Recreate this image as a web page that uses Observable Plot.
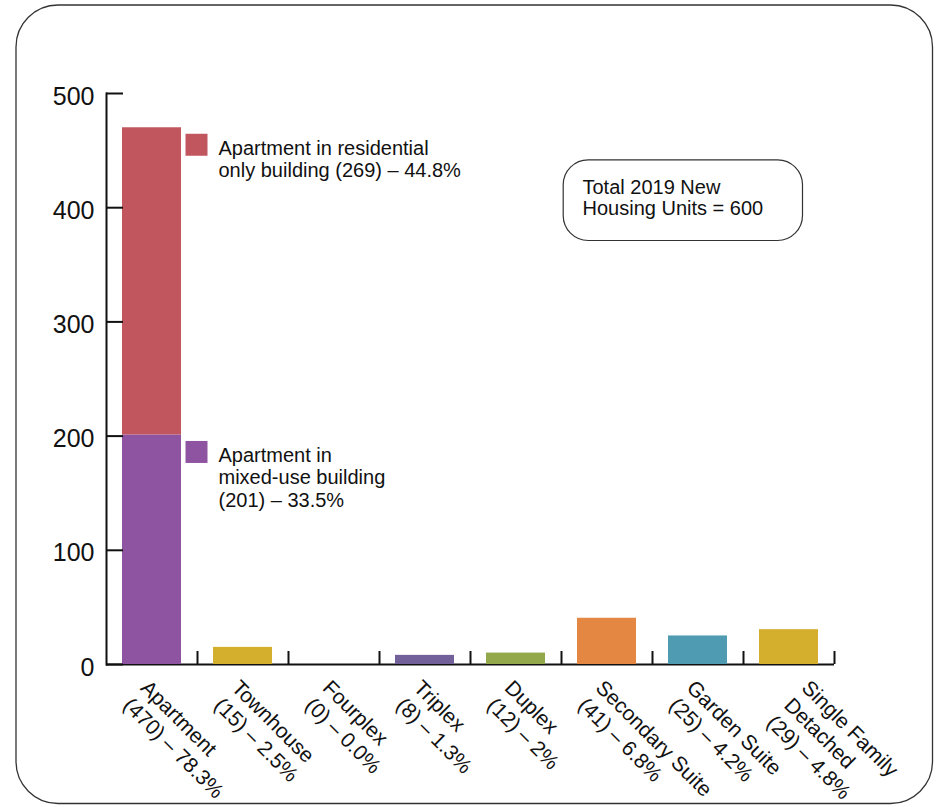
<!DOCTYPE html>
<html><head><meta charset="utf-8">
<script src="https://cdn.jsdelivr.net/npm/d3@7"></script>
<script src="https://cdn.jsdelivr.net/npm/@observablehq/plot@0.6"></script>
<style>body{margin:0;background:#fff}</style>
</head><body><div id="chart"></div>
<script>
const categories = ["Apartment","Townhouse","Fourplex","Triplex","Duplex","Secondary Suite","Garden Suite","Single Family Detached"];
const tickLabels = [
  "Apartment\n(470) – 78.3%",
  "Townhouse\n(15) – 2.5%",
  "Fourplex\n(0) – 0.0%",
  "Triplex\n(8) – 1.3%",
  "Duplex\n(12) – 2%",
  "Secondary Suite\n(41) – 6.8%",
  "Garden Suite\n(25) – 4.2%",
  "Single Family\nDetached\n(29) – 4.8%"
];
// bar heights as drawn in the picture (Apartment is split below)
const otherCategories = ["Townhouse","Fourplex","Triplex","Duplex","Secondary Suite","Garden Suite","Single Family Detached"];
const otherValues = [15, 0, 8, 10, 40.5, 25, 30.5];
const otherColors = ["#D4AE2D","#7C7B4F","#72609B","#93A84B","#E38743","#4E9BB2","#D4AE2D"];
const apartmentParts = ["mixed-use","residential only"];
const apartmentValues = [201, 269];
const apartmentColors = ["#8E53A1","#C1565F"];
const apartmentLegend = [
  "Apartment in\nmixed-use building\n(201) – 33.5%",
  "Apartment in residential\nonly building (269) – 44.8%"
];
const yTicks = [0,100,200,300,400,500];
const totalNote = "Total 2019 New\nHousing Units = 600";

const barRows = [
  ...apartmentParts.map((p,i) => ({category: "Apartment", value: apartmentValues[i], color: apartmentColors[i]})),
  ...otherCategories.map((c,i) => ({category: c, value: otherValues[i], color: otherColors[i]}))
];
const tops = d3.cumsum(apartmentValues);
const legendRows = apartmentParts.map((p,i) => ({top: tops[i], text: apartmentLegend[i], color: apartmentColors[i]}));
const labelRows = categories.map((c,i) => ({category: c, label: tickLabels[i], lines: tickLabels[i].split("\n").length}));

const labelOpts = {x: "category", text: "label", frameAnchor: "bottom", rotate: 45, textAnchor: "start", lineAnchor: "top", dy: 12, fontSize: 21, lineHeight: 1.18, fill: "#111"};

const chart = Plot.plot({
  width: 937, height: 807,
  marginLeft: 106, marginRight: 103, marginTop: 93, marginBottom: 143,
  style: {fontFamily: "'Liberation Sans', Arial, Helvetica, sans-serif", background: "white", color: "#111"},
  x: {type: "band", domain: categories, padding: 0, axis: null},
  y: {domain: [0, 500], axis: null},
  color: {type: "identity"},
  marks: [
    Plot.frame({insetLeft: -90.5, insetTop: -88.5, insetRight: -98, insetBottom: -139, rx: 42, stroke: "#333", strokeWidth: 1.3}),
    Plot.frame({insetLeft: 456.7, insetRight: 32, insetTop: 66.3, insetBottom: 424, rx: 25, stroke: "#333", strokeWidth: 1.2}),
    Plot.text([totalNote], {text: d => d, frameAnchor: "top-left", dx: 476, dy: 86, textAnchor: "start", lineAnchor: "top", fontSize: 20, lineHeight: 1.05, fill: "#111"}),
    Plot.ruleY([0], {stroke: "#111", strokeWidth: 2}),
    Plot.frame({anchor: "left", stroke: "#111", strokeWidth: 2}),
    Plot.barY(barRows, {x: "category", y: "value", fill: "color", insetLeft: 16, insetRight: 16}),
    Plot.barY(barRows.filter(d => d.value === 0), {x: "category", y: "value", fill: "color", stroke: "color", strokeWidth: 1, insetLeft: 16, insetRight: 16}),
    Plot.axisX(categories, {anchor: "bottom", tickSize: -13, dx: 45.5, fill: "none", stroke: "#111", strokeWidth: 2, label: null}),
    Plot.axisY(yTicks, {anchor: "left", tickSize: -17, fill: "none", stroke: "#111", strokeWidth: 2, label: null}),
    Plot.axisY(yTicks, {anchor: "left", tickSize: 0, tickPadding: 12, dy: 3, fontSize: 25, fill: "#111", label: null}),
    Plot.text(labelRows.filter(d => d.lines < 3), {...labelOpts, dx: 0}),
    Plot.text(labelRows.filter(d => d.lines >= 3), {...labelOpts, dx: 24}),
    Plot.dot(legendRows, {x: () => "Apartment", y: "top", symbol: "square", r: 12.41, fill: "color", stroke: null, dx: 44.5, dy: 17}),
    Plot.text(legendRows, {x: () => "Apartment", y: "top", text: "text", dx: 66.5, dy: 11, textAnchor: "start", lineAnchor: "top", fontSize: 20, lineHeight: 1.125, fill: "#111"})
  ]
});
document.getElementById("chart").append(chart);
</script>
</body></html>
